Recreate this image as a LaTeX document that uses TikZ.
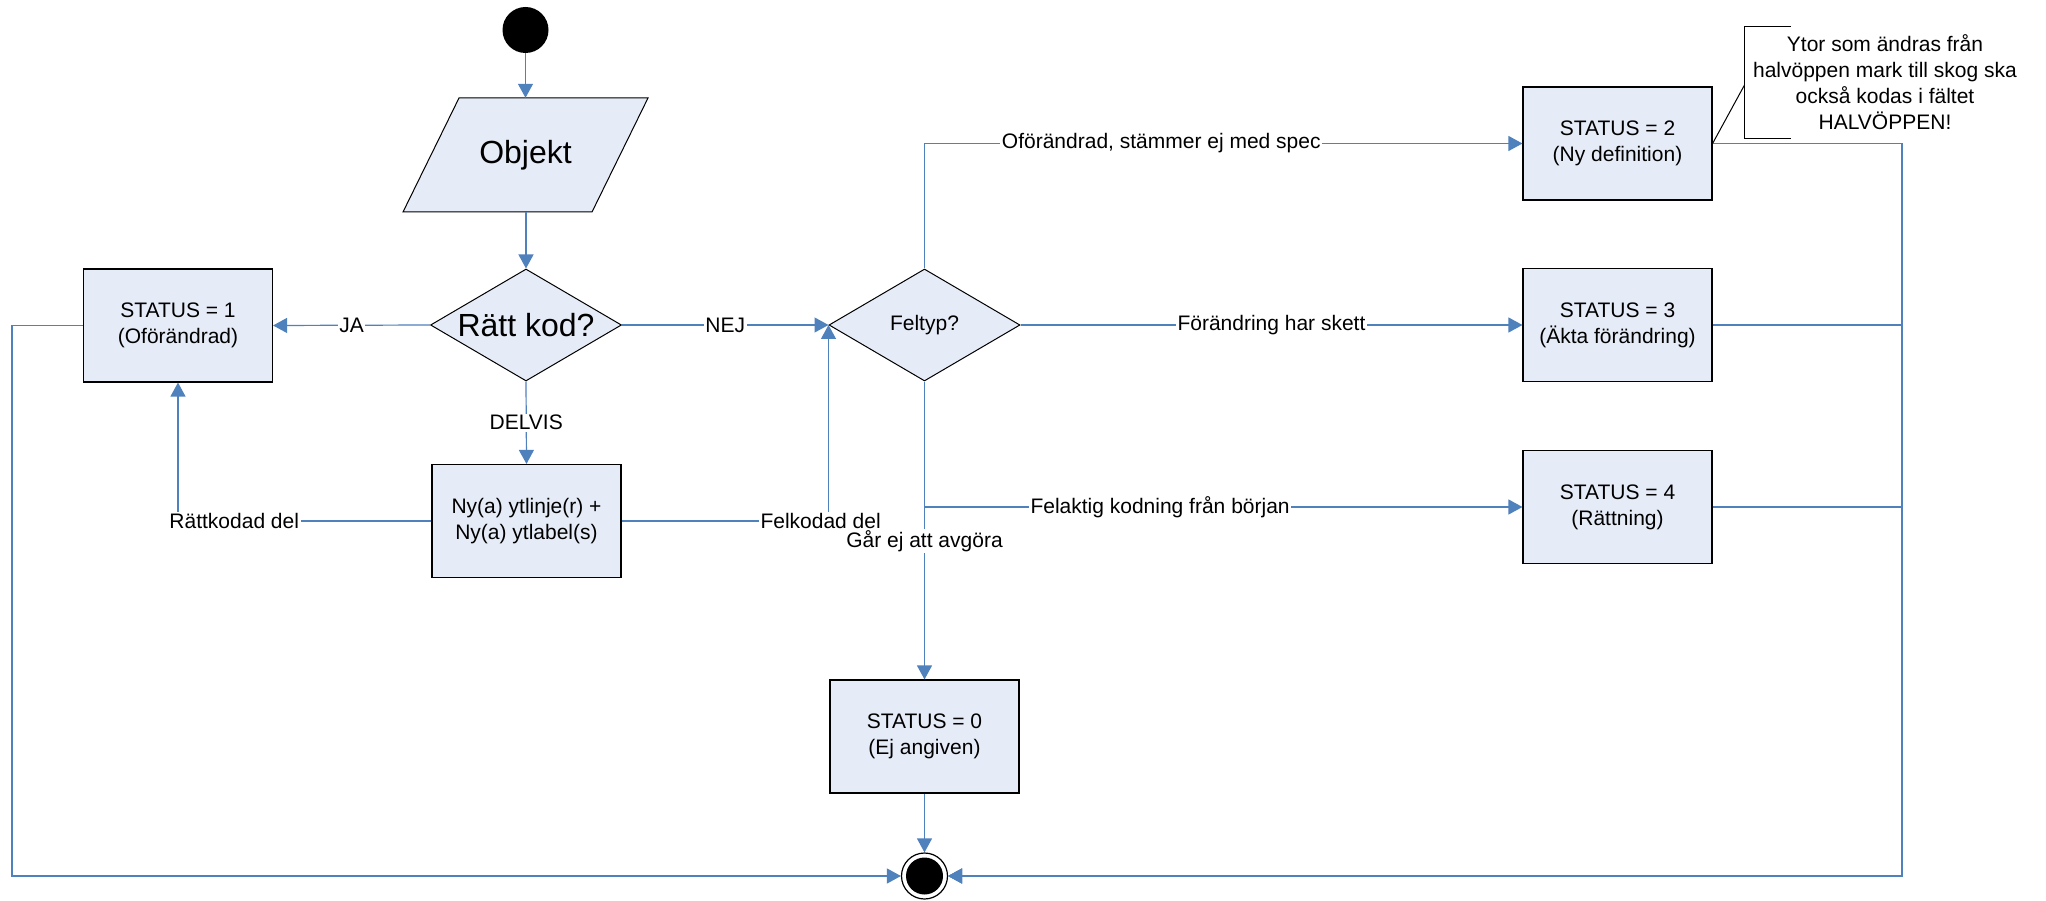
\documentclass[tikz,border=0pt]{standalone}
\usepackage{fontspec}
\setmainfont{Liberation Sans}
\usetikzlibrary{shapes.geometric,arrows.meta}
\definecolor{flow}{RGB}{79,129,189}
\definecolor{boxfill}{RGB}{230,236,247}

\begin{document}
\begin{tikzpicture}[x=1pt,y=-1pt,
  every node/.style={font=\fontsize{21}{26}\selectfont},
  stbox/.style={draw=black,line width=1.15pt,fill=boxfill,minimum width=189pt,
    minimum height=113pt,inner sep=0pt,align=center},
  dia/.style={diamond,draw=black,line width=1pt,fill=boxfill,
    minimum width=191pt,minimum height=112pt,inner sep=0pt},
  conn/.style={draw=flow,line width=1.2pt},
  arr/.style={conn,-{Triangle[length=14pt,width=15pt]}},
  lbl/.style={fill=white,inner sep=1.5pt,text=black},
  big/.style={font=\fontsize{32}{38}\selectfont},
]
\path[use as bounding box,fill=white] (0,0) rectangle (2046,901);

% start and end states
\node[circle,fill=black,minimum size=46pt,inner sep=0pt] (start) at (525.5,30) {};
\node[circle,draw=black,line width=1.2pt,fill=white,minimum size=46pt,inner sep=0pt] (end) at (924.5,876) {};
\fill[black] (end.center) circle (18.5);

% input object (parallelogram)
\filldraw[draw=black,line width=1pt,fill=boxfill]
  (459,98) -- (648,98) -- (592,212) -- (403,212) -- cycle;
\node[big,minimum width=189pt,minimum height=114pt,inner sep=0pt] (obj) at (525.5,155) {Objekt};

% decisions
\node[dia,label={[big]center:Rätt kod?}] (q1) at (526,325) {};
\node[dia,label={center:Feltyp?}] (q2) at (924.5,325) {};

% status boxes
\node[stbox] (s1) at (178,325.5) {STATUS = 1\\(Oförändrad)};
\node[stbox] (ny) at (526.5,521) {Ny(a) ytlinje(r) +\\Ny(a) ytlabel(s)};
\node[stbox] (s0) at (924.5,736.5) {STATUS = 0\\(Ej angiven)};
\node[stbox] (s2) at (1617.5,143.5) {STATUS = 2\\(Ny definition)};
\node[stbox] (s3) at (1617.5,325) {STATUS = 3\\(Äkta förändring)};
\node[stbox] (s4) at (1617.5,507) {STATUS = 4\\(Rättning)};

% routing points of the return lines
\coordinate (lcorner) at (12,876);
\coordinate (rcorner) at (1902,876);
\coordinate (split) at (924.5,507);

% main flow
\draw[arr] (start.south) -- (start.south |- obj.north);
\draw[arr] (q1.north |- obj.south) -- (q1.north);
\draw[arr] (q1.west) -- node[lbl] (lja) {JA} (s1.east);
\draw[arr] (q1.east) -- node[lbl] (lnej) {NEJ} (q2.west);
\draw[arr] (q1.south) -- node[lbl] (ldel) {DELVIS} (ny.north);
\draw[arr] (ny.west) -| node[lbl,pos=0.389] (lratt) {Rättkodad del} (s1.south);
\draw[arr] (ny.east) -| node[lbl,pos=0.481] (lfel) {Felkodad del} (q2.west);

% error types
\draw[arr] (q2.north) |- node[lbl,pos=0.698] (ldef) {Oförändrad, stämmer ej med spec} (s2.west);
\draw[arr] (q2.east) -- node[lbl] (lfor) {Förändring har skett} (s3.west);
\draw[arr] (split) -- node[lbl,pos=0.394] (lkod) {Felaktig kodning från början} (s4.west);
\draw[arr] (q2.south) -- node[lbl,pos=0.535] (lgar) {Går ej att avgöra} (s0.north);

% to the final state
\draw[arr] (s0.south) -- (end.north);
\draw[arr] (s1.west) -| (lcorner) -- (end.west);
\draw[arr] (s2.east) -| (rcorner) -- (end.east);
\draw[arr] (s3.east) -| (rcorner) -- (end.east);
\draw[arr] (s4.east) -| (rcorner) -- (end.east);

% annotation
\node[align=center] (note) at (1885,82) {Ytor som ändras från\\halvöppen mark till skog ska\\också kodas i fältet\\HALVÖPPEN!};
\draw[black,line width=1pt] (1791,27) -- (1744.5,27) -- (1744.5,139) -- (1791,139);
\draw[black,line width=1pt] (1744.5,85) -- (s2.east);
\end{tikzpicture}
\end{document}
